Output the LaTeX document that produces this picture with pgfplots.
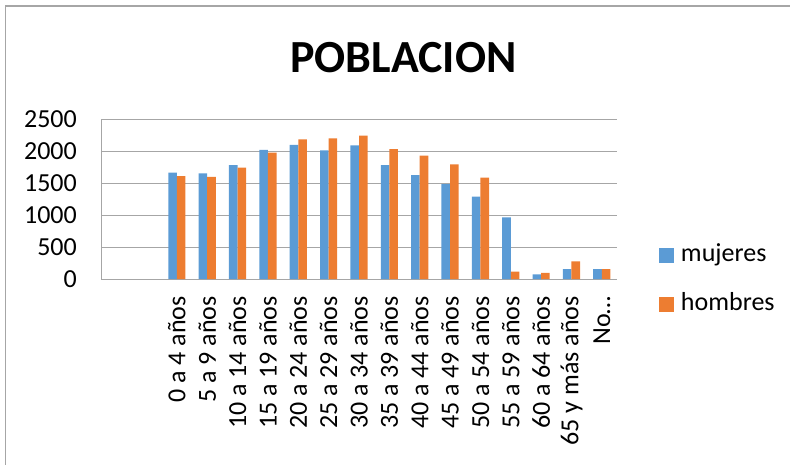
\documentclass[border=0pt]{standalone}
\usepackage{fontspec}
\setmainfont{Carlito}
\usepackage{pgfplots}
\pgfplotsset{compat=1.18}
\definecolor{cblue}{HTML}{5B9BD5}
\definecolor{corange}{HTML}{ED7D31}
\definecolor{cgrid}{HTML}{A6A6A6}
\begin{document}
\begin{tikzpicture}
\useasboundingbox (0,0) rectangle (790pt,464pt);
\draw[cgrid, line width=1.3pt] (5.5pt,-2pt) -- (5.5pt,458pt) -- (792pt,458pt);
\node[font=\fontsize{46}{50}\selectfont\bfseries, anchor=base, inner sep=0pt] at (403.5pt,391.3pt) {POBLACION};
\begin{axis}[
  at={(101pt,185pt)}, anchor=south west,
  scale only axis, width=516pt, height=160pt,
  xmin=-0.5, xmax=16.5, ymin=0, ymax=2500,
  ytick={0,500,1000,1500,2000,2500},
  xtick={2,...,16},
  xticklabels={0 a 4 años, 5 a 9 años, 10 a 14 años, 15 a 19 años, 20 a 24 años, 25 a 29 años, 30 a 34 años, 35 a 39 años, 40 a 44 años, 45 a 49 años, 50 a  54 años, 55 a 59 años, 60 a 64 años, 65 y más años, No…},
  ybar=0pt, bar width=8.6pt,
  axis x line*=bottom, axis y line*=left,
  axis line style={-, draw=cgrid, line width=1pt},
  major tick length=0pt,
  ymajorgrids, grid style={cgrid, line width=1pt},
  /pgf/number format/assume math mode=true,
  /pgf/number format/1000 sep={},
  scaled y ticks=false,
  yticklabel style={font=\fontsize{26}{30}\selectfont, anchor=east, inner sep=0pt, xshift=-24pt},
  xticklabel style={font=\fontsize{26}{30}\selectfont, rotate=90, anchor=east, inner sep=0pt, inner xsep=17pt},
  legend style={at={(1.081,-0.004)}, anchor=west, draw=none, fill=none,
    font=\fontsize{26}{30}\selectfont, inner sep=0pt, row sep=25pt,
    nodes={inner sep=0pt, inner xsep=7pt, text height=18pt, text depth=6pt}},
  legend cell align=left,
  legend image code/.code={\fill[#1] (0pt,-7.5pt) rectangle (15pt,7.5pt);},
]
\addplot[fill=cblue, draw=none] table {
x y
2 1661
3 1651
4 1781
5 2016
6 2094
7 2010
8 2089
9 1781
10 1625
11 1484
12 1286
13 964
14 73
15 156
16 156
};
\addplot[fill=corange, draw=none] table {
x y
2 1609
3 1594
4 1740
5 1974
6 2182
7 2198
8 2240
9 2031
10 1927
11 1792
12 1583
13 115
14 94
15 276
16 156
};
\legend{mujeres, hombres}
\end{axis}
\end{tikzpicture}
\end{document}
